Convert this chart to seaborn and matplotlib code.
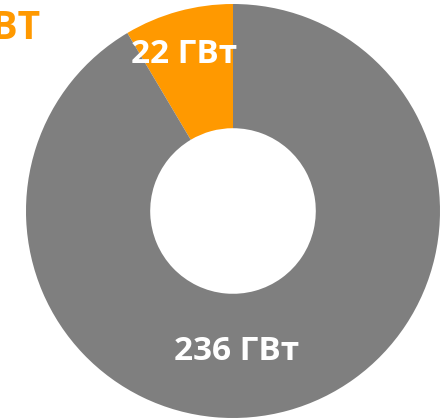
import matplotlib
matplotlib.use("Agg")
import matplotlib.pyplot as plt
import seaborn as sns

# data
labels = ["22 ГВт", "236 ГВт"]
values = [22, 236]
colors = ["#FF9900", "#7F7F7F"]
total_label = "258 ГВТ"

sns.set_theme(style="white")
plt.rcParams['font.family'] = ['Open Sans', 'DejaVu Sans']

fig = plt.figure(figsize=(4.46, 4.19), dpi=100)
ax = fig.add_axes([0, 0, 1, 1])

ax.pie(values, colors=colors, startangle=90, counterclock=True,
       radius=1.0, wedgeprops=dict(width=0.6, edgecolor='none'))

ax.set_xlim(-233 / 207, (446 - 233) / 207)
ax.set_ylim(-(419 - 211) / 207, 211 / 207)
ax.set_aspect('equal')
ax.axis('off')

# slice labels
ax.text(-0.237, 0.754, labels[0], color='white', fontsize=24,
        fontweight='bold', ha='center', va='center')
ax.text(0.015, -0.681, labels[1], color='white', fontsize=24,
        fontweight='bold', ha='center', va='center')

# total label, mostly cut off at the left edge (as in the reference)
ax.text(-0.93, 0.88, total_label, color=colors[0], fontsize=28,
        fontweight='bold', ha='right', va='center')

fig.savefig("out.png", dpi=100)
